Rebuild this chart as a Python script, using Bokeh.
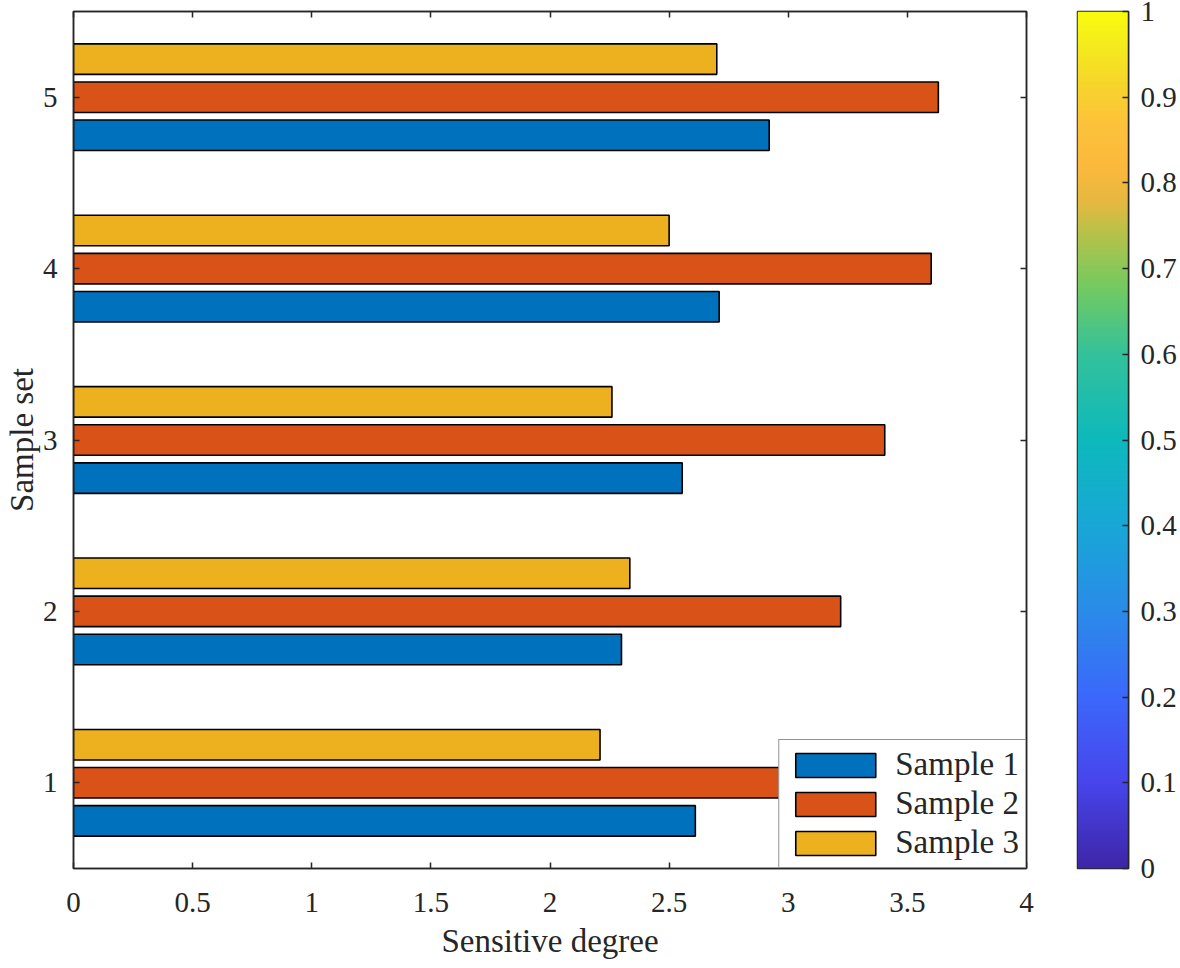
import numpy as np
from bokeh.plotting import figure
from bokeh.models import (FixedTicker, CustomJSTickFormatter, LinearAxis, Range1d,
                          LinearColorMapper, Legend, LegendItem, ColumnDataSource,
                          CustomLabelingPolicy)
from bokeh.layouts import row
from bokeh.transform import dodge
from bokeh.embed import file_html
from bokeh.resources import INLINE

# ---------------- data ----------------
sample_sets = [1, 2, 3, 4, 5]
sample1 = [2.61, 2.30, 2.555, 2.71, 2.92]
sample2 = [3.05, 3.22, 3.405, 3.60, 3.63]
sample3 = [2.21, 2.335, 2.26, 2.50, 2.70]
series_names = ["Sample 1", "Sample 2", "Sample 3"]
x_ticks = [0, 0.5, 1, 1.5, 2, 2.5, 3, 3.5, 4]
y_ticks = [1, 2, 3, 4, 5]
cbar_ticks = [0, 0.1, 0.2, 0.3, 0.4, 0.5, 0.6, 0.7, 0.8, 0.9, 1]

# ---------------- style ----------------
COLORS = ["#0072BD", "#D95319", "#EDB120"]
FONT = "Liberation Serif"
TXT = "#262626"
TICK_FS = "29px"
LABEL_FS = "33px"
TOP = 11
FRAME_H = 857
A_LEFT = 72
A_FRAME_W = 953
A_RIGHT = 13
CB_X = 1076

fmt = CustomJSTickFormatter(code="return (Math.round(tick*10)/10).toString();")
no_labels = CustomLabelingPolicy(code="const a = [...indices]; for (const i of a) indices.unset(i); return indices;")

p = figure(frame_width=A_FRAME_W, frame_height=FRAME_H, output_backend="svg", toolbar_location=None,
           x_range=Range1d(0, 4), y_range=Range1d(0.5, 5.5),
           min_border_left=A_LEFT, min_border_right=A_RIGHT, min_border_top=TOP, min_border_bottom=60)
p.xgrid.visible = False
p.ygrid.visible = False
p.outline_line_color = TXT
p.outline_line_width = 1.5

src = ColumnDataSource(dict(y=sample_sets, s1=sample1, s2=sample2, s3=sample3))

offsets = [-0.2222, 0.0, 0.2222]
renderers = []
for col, off, c in zip(["s1", "s2", "s3"], offsets, COLORS):
    r = p.hbar(y=dodge("y", off), right=col, left=0, height=0.178, source=src,
               fill_color=c, line_color="#000000", line_width=1.6)
    renderers.append(r)

for ax in (p.xaxis[0], p.yaxis[0]):
    ax.major_tick_in = 6
    ax.major_tick_out = 0
    ax.minor_tick_line_color = None
    ax.axis_line_color = TXT
    ax.axis_line_width = 1.5
    ax.major_tick_line_color = TXT
    ax.major_tick_line_width = 1.5
    ax.major_label_text_font = FONT
    ax.major_label_text_font_size = TICK_FS
    ax.major_label_text_color = TXT
    ax.axis_label_text_font = FONT
    ax.axis_label_text_font_size = LABEL_FS
    ax.axis_label_text_font_style = "normal"
    ax.axis_label_text_color = TXT
    ax.formatter = fmt

p.xaxis[0].ticker = FixedTicker(ticks=x_ticks)
p.yaxis[0].ticker = FixedTicker(ticks=y_ticks)
p.xaxis[0].axis_label = "Sensitive degree"
p.yaxis[0].axis_label = "Sample set"
p.xaxis[0].major_label_standoff = 24
p.xaxis[0].axis_label_standoff = 8
p.yaxis[0].major_label_standoff = 16
p.yaxis[0].axis_label_standoff = 0

def frame_axis(ticks):
    return LinearAxis(ticker=FixedTicker(ticks=ticks), major_label_policy=no_labels,
                      major_label_text_font_size="1px", major_label_standoff=0,
                      major_tick_in=6, major_tick_out=0, axis_label_standoff=0,
                      minor_tick_line_color=None, axis_line_color=TXT, axis_line_width=1.5,
                      major_tick_line_color=TXT, major_tick_line_width=1.5)

p.add_layout(frame_axis(x_ticks), "above")
p.add_layout(frame_axis(y_ticks), "right")

legend = Legend(items=[LegendItem(label=n, renderers=[r]) for n, r in zip(series_names, renderers)],
                location="bottom_right")
legend.margin = 0
legend.padding = 6
legend.spacing = 2
legend.glyph_width = 100
legend.glyph_height = 30
legend.label_standoff = 10
legend.label_text_font = FONT
legend.label_text_font_size = "33px"
legend.label_text_color = TXT
legend.border_line_color = TXT
legend.border_line_width = 1.5
legend.background_fill_alpha = 1
p.add_layout(legend, "center")

# ---------------- colorbar (parula) ----------------
stops = [(0.00, "#3e26a8"), (0.10, "#4745ec"), (0.20, "#3b68fb"), (0.30, "#2a8be8"),
         (0.40, "#18a7d6"), (0.50, "#0db9bc"), (0.60, "#33c19b"), (0.68, "#74ca60"),
         (0.74, "#b4c24a"), (0.78, "#e6b840"), (0.82, "#fbb93c"), (0.87, "#fcc23a"),
         (0.92, "#f6d62a"), (0.96, "#f4ea1e"), (1.00, "#f9fb0e")]

def _hex(h):
    return np.array([int(h[i:i + 2], 16) for i in (1, 3, 5)], dtype=float)

pos = np.array([s[0] for s in stops])
cols = np.array([_hex(s[1]) for s in stops])
t = np.linspace(0, 1, 256)
palette = ["#%02x%02x%02x" % tuple(int(round(np.interp(v, pos, cols[:, k]))) for k in range(3)) for v in t]

a_width = A_LEFT + A_FRAME_W + A_RIGHT
mapper = LinearColorMapper(palette=palette, low=0, high=1)
cb = figure(frame_width=51, frame_height=FRAME_H, output_backend="svg", toolbar_location=None,
            x_range=Range1d(0, 1), y_range=Range1d(0, 1), y_axis_location="right",
            x_axis_location=None,
            min_border_left=CB_X - a_width, min_border_right=20, min_border_top=TOP, min_border_bottom=60)
cb.xgrid.visible = False
cb.ygrid.visible = False
cb.image(image=[t.reshape(-1, 1)], x=0, y=0, dw=1, dh=1, color_mapper=mapper)
cb.outline_line_color = TXT
cb.outline_line_width = 1.5
ya = cb.yaxis[0]
ya.ticker = FixedTicker(ticks=cbar_ticks)
ya.formatter = fmt
ya.major_tick_in = 6
ya.major_tick_out = 0
ya.minor_tick_line_color = None
ya.axis_line_color = TXT
ya.axis_line_width = 1.5
ya.major_tick_line_color = TXT
ya.major_tick_line_width = 1.5
ya.major_label_text_font = FONT
ya.major_label_text_font_size = TICK_FS
ya.major_label_text_color = TXT
ya.major_label_standoff = 12
ya.axis_label_standoff = 0

layout = row(p, cb)
open("out.html", "w").write(file_html(layout, INLINE))
